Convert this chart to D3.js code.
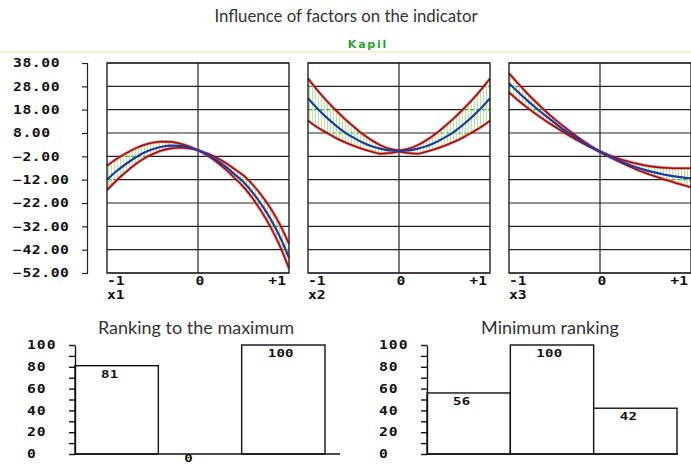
<!DOCTYPE html>
<html><head><meta charset="utf-8">
<script src="https://cdn.jsdelivr.net/npm/d3@7"></script>
<style>body{margin:0;background:#fff}svg{display:block}</style>
</head><body>
<script>
// ---------- data ----------
const chartTitle = "Influence of factors on the indicator";
const subTitle = "Kapil";
const xs = [-1,-0.9,-0.8,-0.7,-0.6,-0.5,-0.4,-0.3,-0.2,-0.1,0,0.1,0.2,0.3,0.4,0.5,0.6,0.7,0.8,0.9,1];
const xTickLabels = ["-1","0","+1"];
const factorNames = ["x1","x2","x3"];
const yTicks = [38,28,18,8,-2,-12,-22,-32,-42,-52];

const x1Mid   = [-12,-8.5,-5.5,-2.8,-0.6,1.0,2.1,2.6,2.5,1.8,0.6,-1.2,-3.5,-6.3,-9.6,-13.0,-17.5,-22.8,-29.0,-36.5,-45.5];
const x1Upper = [-6.0,-3.2,-0.9,1.2,2.8,3.8,4.3,4.2,3.5,2.3,0.6,-0.7,-2.5,-4.7,-7.4,-10.2,-14.1,-18.8,-24.4,-31.2,-39.5];
const x1Lower = [-16.5,-12.5,-9.0,-5.8,-3.1,-1.1,0.5,1.4,1.7,1.4,0.6,-1.6,-4.3,-7.5,-11.2,-15.1,-20.0,-25.8,-32.5,-40.5,-50.0];

const x2Mid   = [22.9,18.6,14.8,11.4,8.4,6.0,3.9,2.3,1.2,0.5,0.3,0.5,1.2,2.3,3.9,6.0,8.4,11.4,14.8,18.6,22.9];
const x2Upper = [31.4,26.5,22.0,18.0,14.2,10.8,7.6,4.9,2.7,1.2,0.6,1.2,2.7,4.9,7.6,10.8,14.2,18.0,22.0,26.5,31.4];
const x2Lower = [13.3,10.5,8.2,6.0,4.1,2.5,1.1,0.0,-0.9,-0.6,0.0,-0.6,-0.9,0.0,1.1,2.5,4.1,6.0,8.2,10.5,13.3];

const x3Mid   = [29.3,25.6,22.0,18.6,15.4,12.4,9.4,6.9,4.4,2.1,0.0,-1.9,-3.7,-5.3,-6.7,-7.9,-8.9,-9.8,-10.5,-11.0,-11.4];
const x3Upper = [33.6,29.2,25.0,21.1,17.4,14.0,10.8,7.8,5.0,2.4,0.2,-1.5,-2.9,-4.1,-5.1,-5.9,-6.5,-6.9,-7.1,-7.1,-7.1];
const x3Lower = [25.4,22.0,18.9,16.0,13.3,10.8,8.3,6.0,3.8,1.8,-0.2,-2.2,-4.1,-5.9,-7.6,-9.1,-10.5,-11.8,-13.0,-14.2,-15.3];

const rankCategories = ["x1","x2","x3"];
const rankMaxTitle = "Ranking to the maximum";
const rankMaxValues = [81, 0, 100];
const rankMinTitle = "Minimum ranking";
const rankMinValues = [56, 100, 42];
const barTicks = [0,10,20,30,40,50,60,70,80,90,100];

// ---------- drawing ----------
const W = 691, H = 465;
const monoFont = "'DejaVu Sans Mono', 'Liberation Mono', monospace";
const textFont = "Lato, 'Open Sans', sans-serif";
const SX = 1.28; // horizontal stretch of the bold numeric font
const svg = d3.select("body").append("svg").attr("width", W).attr("height", H);
const defs = svg.append("defs");
const pat = defs.append("pattern").attr("id","hatch").attr("patternUnits","userSpaceOnUse")
  .attr("width",3).attr("height",10);
pat.append("rect").attr("width",3).attr("height",10).attr("fill","#ffffff");
pat.append("line").attr("x1",0.5).attr("x2",0.5).attr("y1",0).attr("y2",10)
  .attr("stroke","#b4e6a0").attr("stroke-width",1);

function numText(sel, size, ls) {
  return sel.attr("font-family",monoFont).attr("font-weight","bold").attr("font-size",size)
    .attr("letter-spacing",ls).attr("fill","#111");
}
function placeNum(parent, x, yy, txt, anchor, size, ls) {
  const t = parent.append("text").attr("transform",`translate(${x},${yy}) scale(${SX},1)`)
    .attr("text-anchor",anchor).text(txt);
  return numText(t, size, ls);
}

svg.append("text").attr("x",346).attr("y",22).attr("text-anchor","middle")
  .attr("font-family",textFont).attr("font-size",16.8).attr("fill","#333")
  .text(chartTitle);
svg.append("text").attr("x",368).attr("y",48).attr("text-anchor","middle")
  .attr("font-family","'DejaVu Sans', sans-serif").attr("font-weight","bold").attr("font-size",11)
  .attr("letter-spacing",1.8).attr("fill","#2ca02c").text(subTitle);
svg.append("rect").attr("x",0).attr("y",51).attr("width",W).attr("height",2).attr("fill","#f6f2d2");

const panelTop = 63, panelBottom = 273, panelW = 182;
const panelLefts = [107, 308, 509];
const y = d3.scaleLinear().domain([-52, 38]).range([panelBottom, panelTop]);

// shared left axis
const ax = svg.append("g").attr("transform","translate(87,0)")
  .call(d3.axisLeft(y).tickValues(yTicks).tickSize(5).tickSizeOuter(5).tickFormat(d3.format(".2f")));
ax.selectAll("path,line").attr("stroke","#222").attr("stroke-width",1.2);
numText(ax.selectAll("text").attr("x",0).attr("text-anchor","start")
  .attr("transform",`translate(-74,0) scale(${SX},1)`), 11.5, 0.45);

const panels = [
  {name: factorNames[0], mid: x1Mid, upper: x1Upper, lower: x1Lower},
  {name: factorNames[1], mid: x2Mid, upper: x2Upper, lower: x2Lower},
  {name: factorNames[2], mid: x3Mid, upper: x3Upper, lower: x3Lower}
];

panels.forEach((p, i) => {
  const left = panelLefts[i];
  const x = d3.scaleLinear().domain([-1, 1]).range([left, left + panelW]);
  const g = svg.append("g");
  const area = d3.area().x((d,j) => x(xs[j])).y0((d,j) => y(p.lower[j])).y1((d,j) => y(p.upper[j]))
    .curve(d3.curveMonotoneX);
  const line = arr => d3.line().x((d,j) => x(xs[j])).y(d => y(d)).curve(d3.curveMonotoneX)(arr);

  g.selectAll(".h").data(yTicks).join("line")
    .attr("x1", x(-1)).attr("x2", x(1)).attr("y1", d => y(d)).attr("y2", d => y(d))
    .attr("stroke","#222").attr("stroke-width",1.2);
  const cid = "clip" + i;
  defs.append("clipPath").attr("id", cid).append("path").attr("d", area(xs));
  g.append("path").attr("d", area(xs)).attr("fill","url(#hatch)");
  g.append("g").attr("clip-path", `url(#${cid})`).selectAll("line").data(yTicks).join("line")
    .attr("x1", x(-1)).attr("x2", x(1)).attr("y1", d => y(d)).attr("y2", d => y(d))
    .attr("stroke","#3cb043").attr("stroke-width",1.2).attr("stroke-dasharray","4,2");
  g.append("line").attr("x1", x(0)).attr("x2", x(0)).attr("y1", panelTop).attr("y2", panelBottom)
    .attr("stroke","#222").attr("stroke-width",1.2);
  [p.upper, p.lower].forEach(arr => {
    g.append("path").attr("d", line(arr)).attr("fill","none").attr("stroke","#e23a3a").attr("stroke-width",3).attr("stroke-opacity",0.55);
    g.append("path").attr("d", line(arr)).attr("fill","none").attr("stroke","#9c1010").attr("stroke-width",1.6);
  });
  g.append("path").attr("d", line(p.mid)).attr("fill","none").attr("stroke","#1e3c9e").attr("stroke-width",2.2);
  g.append("rect").attr("x", x(-1)).attr("y", panelTop).attr("width", panelW).attr("height", panelBottom - panelTop)
    .attr("fill","none").attr("stroke","#222").attr("stroke-width",1.4);
  placeNum(g, x(-1), 285, xTickLabels[0], "start", 11.5, 0);
  placeNum(g, x(0) + 2, 285, xTickLabels[1], "middle", 11.5, 0);
  placeNum(g, x(1) - 3, 285, xTickLabels[2], "end", 11.5, 0);
  placeNum(g, x(-1), 299, p.name, "start", 11.5, 0);
});

// bottom bar charts
const yb = d3.scaleLinear().domain([0, 100]).range([454, 345]);
const bars = [
  {title: rankMaxTitle, values: rankMaxValues, axisX: 75, end: 325, baseEnd: 340, titleX: 196},
  {title: rankMinTitle, values: rankMinValues, axisX: 427, end: 677, baseEnd: 678, titleX: 550}
];
bars.forEach(c => {
  const g = svg.append("g");
  g.append("text").attr("x", c.titleX).attr("y", 334).attr("text-anchor","middle")
    .attr("font-family",textFont).attr("font-size",18).attr("fill","#333").text(c.title);
  const xb = d3.scaleBand().domain(rankCategories).range([c.axisX, c.end]);
  rankCategories.forEach((cat, j) => {
    const v = c.values[j];
    if (v > 0) {
      g.append("rect").attr("x", xb(cat)).attr("y", yb(v)).attr("width", xb.bandwidth()).attr("height", yb(0) - yb(v))
        .attr("fill","#fff").attr("stroke","#111").attr("stroke-width",1.4);
    }
    placeNum(g, xb(cat) + 26, Math.min(yb(v) + 12, 462), v, "start", 11, 0.2);
  });
  g.append("line").attr("x1", c.axisX).attr("x2", c.baseEnd).attr("y1", yb(0)).attr("y2", yb(0))
    .attr("stroke","#111").attr("stroke-width",1.6);
  const a = g.append("g").attr("transform", `translate(${c.axisX},0)`)
    .call(d3.axisLeft(yb).tickValues(barTicks).tickSize(6).tickSizeOuter(0).tickFormat(d => d % 20 === 0 ? d : ""));
  a.selectAll("path,line").attr("stroke","#111").attr("stroke-width",1.4);
  numText(a.selectAll("text").attr("x",0).attr("text-anchor","start")
    .attr("transform",`translate(-48,0) scale(${SX},1)`), 11.5, 0.8);
});
</script>
</body></html>
